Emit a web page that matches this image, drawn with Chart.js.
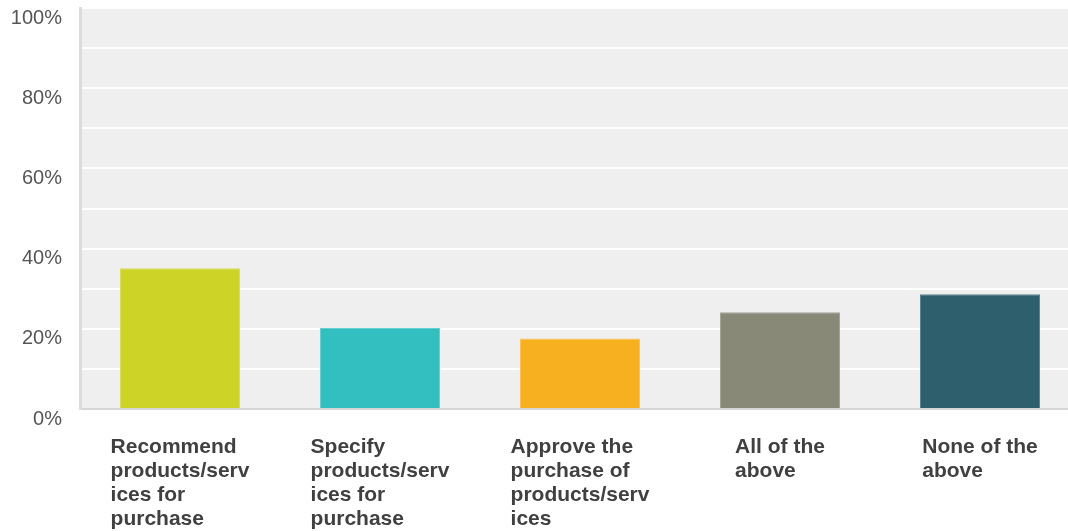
<!DOCTYPE html>
<html>
<head>
<meta charset="utf-8">
<script src="https://cdn.jsdelivr.net/npm/chart.js@4"></script>
<style>
  html, body { margin: 0; padding: 0; background: #fff; overflow: hidden; }
  #wrap { width: 1080px; height: 531px; position: relative; }
</style>
</head>
<body>
<div id="wrap"><canvas id="surveyChart"></canvas></div>
<script>
const categories = [
  ['Recommend', 'products/serv', 'ices for', 'purchase'],
  ['Specify', 'products/serv', 'ices for', 'purchase'],
  ['Approve the', 'purchase of', 'products/serv', 'ices'],
  ['All of the', 'above'],
  ['None of the', 'above']
];

const percentValues = [35.1, 20.2, 17.6, 24.1, 28.6];

const barColors = ['#cdd427', '#33bec0', '#f7b020', '#898978', '#2e5f6d'];
const barEdges = ['#d9df5a', '#66cfd0', '#f9c45a', '#a4a596', '#5a8591'];

// grey plot background behind the bars
const plotBackground = {
  id: 'plotBackground',
  beforeDraw(chart) {
    const { ctx, chartArea } = chart;
    ctx.save();
    ctx.fillStyle = '#efefef';
    ctx.fillRect(chartArea.left, chartArea.top, chartArea.right - chartArea.left, chartArea.bottom - chartArea.top);
    ctx.restore();
  }
};

// x labels: a left-aligned text block centred under each bar
const blockLabels = {
  id: 'blockLabels',
  afterDraw(chart) {
    const { ctx } = chart;
    const xScale = chart.scales.x;
    ctx.save();
    ctx.font = 'bold 21px "Liberation Sans", Arial, sans-serif';
    ctx.fillStyle = '#404040';
    ctx.textAlign = 'left';
    ctx.textBaseline = 'middle';
    categories.forEach((lines, i) => {
      let widest = 0;
      lines.forEach((l) => { widest = Math.max(widest, ctx.measureText(l).width); });
      const left = xScale.getPixelForTick(i) - widest / 2;
      lines.forEach((l, j) => {
        ctx.fillText(l, left, xScale.bottom + 38 + j * 24);
      });
    });
    ctx.restore();
  }
};

new Chart(document.getElementById('surveyChart'), {
  type: 'bar',
  data: {
    labels: categories,
    datasets: [{
      data: percentValues,
      backgroundColor: barColors,
      borderColor: barEdges,
      borderWidth: 1,
      categoryPercentage: 1,
      barPercentage: 0.6
    }]
  },
  options: {
    responsive: true,
    maintainAspectRatio: false,
    animation: false,
    layout: { padding: { top: 8, bottom: 122, right: 0, left: 0 } },
    plugins: {
      legend: { display: false },
      tooltip: { enabled: false }
    },
    scales: {
      x: {
        grid: { display: false, drawTicks: false },
        border: { display: true, color: '#d6d6d6', width: 2 },
        ticks: { display: false }
      },
      y: {
        min: 0,
        max: 100,
        afterFit(scale) {
          scale.width = 80;
          scale.paddingTop = 0;
          scale.paddingBottom = 0;
        },
        grid: { color: '#ffffff', lineWidth: 2, drawTicks: false },
        border: { display: true, color: '#dcdcdc', width: 3 },
        ticks: {
          stepSize: 10,
          padding: 18,
          labelOffset: 10,
          color: '#555555',
          font: { family: '"Liberation Sans", Arial, sans-serif', size: 20 },
          callback: (v) => (v % 20 === 0 ? v + '%' : '')
        }
      }
    }
  },
  plugins: [plotBackground, blockLabels]
});
</script>
</body>
</html>
